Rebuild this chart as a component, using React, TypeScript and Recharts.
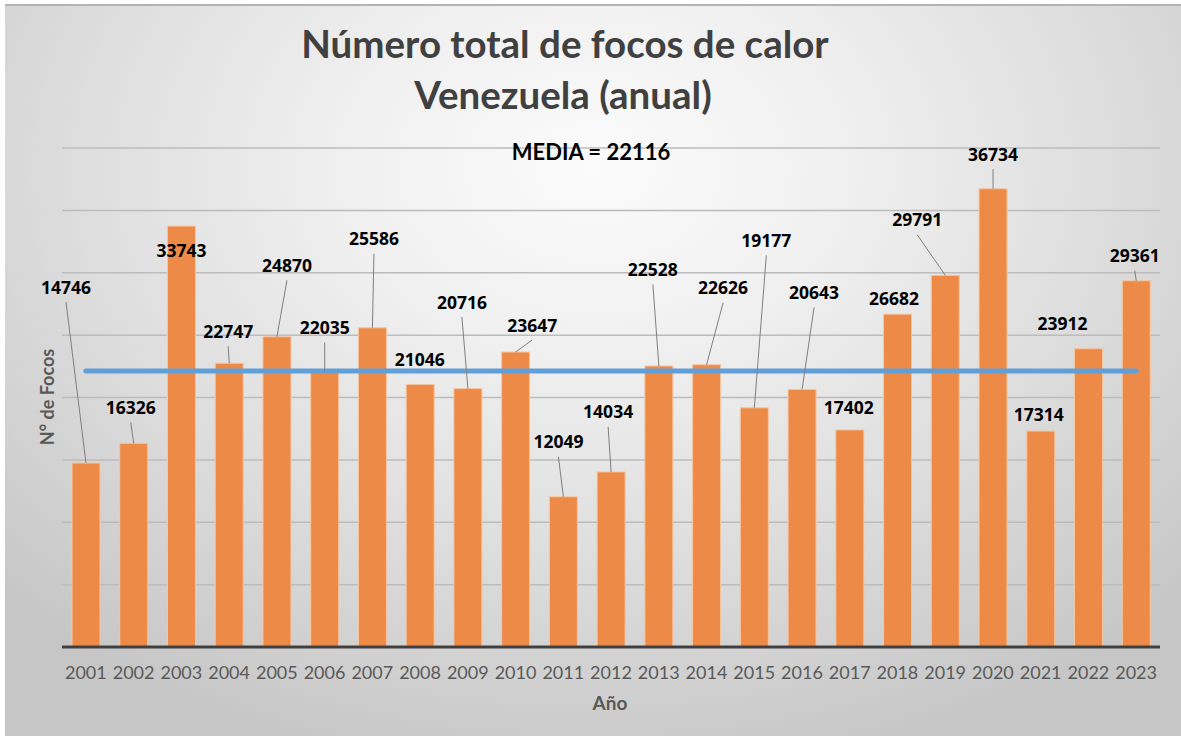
import React from 'react';
import { ComposedChart, Bar, Line, XAxis, YAxis, CartesianGrid, LabelList } from 'recharts';

// ---- data ----
const years = ['2001', '2002', '2003', '2004', '2005', '2006', '2007', '2008', '2009', '2010', '2011', '2012', '2013', '2014', '2015', '2016', '2017', '2018', '2019', '2020', '2021', '2022', '2023'];
const focos = [14746, 16326, 33743, 22747, 24870, 22035, 25586, 21046, 20716, 23647, 12049, 14034, 22528, 22626, 19177, 20643, 17402, 26682, 29791, 36734, 17314, 23912, 29361];
const media = 22116;
const yTicks = [0, 5000, 10000, 15000, 20000, 25000, 30000, 35000, 40000];

const titleLines = ['Número total de focos de calor', 'Venezuela (anual)'];
const mediaLabel = 'MEDIA = 22116';
const yAxisTitle = 'N° de Focos';
const xAxisTitle = 'Año';

// ---- layout of the (manually moved) data labels: [dx, dy, leader line] relative to bar top centre ----
const labelLayout: [number, number, boolean][] = [
  [-20, -176, true],
  [-3, -36, true],
  [0, 24, false],
  [-1, -32, true],
  [10, -71.5, true],
  [0, -44.5, true],
  [1.5, -89, true],
  [-0.5, -24.5, false],
  [-6, -86.5, true],
  [16.5, -27, true],
  [-5, -55, true],
  [-3, -60, true],
  [-6, -96.5, true],
  [16.5, -77, true],
  [12, -167.5, true],
  [12, -97, true],
  [-1, -22, false],
  [-3.5, -16, false],
  [-28, -55.5, true],
  [0, -34.5, true],
  [-2, -17, false],
  [-26, -25, false],
  [-1.5, -25, true],
];

const data = years.map((y, i) => ({ year: y, focos: focos[i], media }));

const FONT = 'Lato, "Open Sans", sans-serif';
const LABEL_FONT = '"Open Sans", Lato, sans-serif';

const BarLabel = (props: any) => {
  const { x, y, width, value, index } = props;
  const cx = Number(x) + Number(width) / 2;
  const top = Number(y);
  const [dx, dy, leader] = labelLayout[index] || [0, -20, false];
  const tx = cx + dx;
  const ty = top + dy;
  return (
    <g>
      {leader && (
        <line x1={tx} y1={ty + 15} x2={cx} y2={top} stroke="#7f7f7f" strokeWidth={1} />
      )}
      <text
        x={tx}
        y={ty + 6.5}
        textAnchor="middle"
        fontFamily={LABEL_FONT}
        fontWeight={700}
        fontSize={17.5}
        fill="#000000"
      >
        {value}
      </text>
    </g>
  );
};

export default function App() {
  return (
    <div style={{ position: 'absolute', left: 0, top: 0, width: 1181, height: 740, background: '#ffffff', overflow: 'hidden' }}>
      <div
        style={{
          position: 'absolute',
          left: 5,
          top: 4,
          width: 1176,
          height: 732,
          boxSizing: 'border-box',
          borderTop: '2px solid #b3b3b3',
          background:
            'radial-gradient(ellipse 70% 85% at 50% 22%, #fbfbfb 0%, #f0f0f0 30%, #dedede 62%, #c6c6c6 100%)',
        }}
      />
      <div style={{ position: 'absolute', left: 0, top: 0 }}>
        <ComposedChart
          width={1181}
          height={740}
          data={data}
          margin={{ top: 148, right: 21, bottom: 0, left: 62 }}
        >
          <CartesianGrid horizontal vertical={false} stroke="#bcbcbc" strokeWidth={1.5} />
          <YAxis hide width={0} domain={[0, 40000]} ticks={yTicks} type="number" />
          <XAxis
            dataKey="year"
            height={93}
            interval={0}
            tickLine={false}
            tickMargin={13}
            axisLine={{ stroke: '#404040', strokeWidth: 3 }}
            tick={{ fill: '#595959', fontSize: 18, fontFamily: FONT }}
          />
          <Bar dataKey="focos" barSize={28} fill="#ee8a48" stroke="#f6c7a2" strokeWidth={1} isAnimationActive={false}>
            <LabelList dataKey="focos" content={BarLabel} />
          </Bar>
          <Line
            dataKey="media"
            type="linear"
            stroke="#619fd8"
            strokeWidth={5}
            strokeLinecap="round"
            dot={false}
            activeDot={false}
            isAnimationActive={false}
          />
        </ComposedChart>
      </div>
      <svg width={1181} height={740} style={{ position: 'absolute', left: 0, top: 0, pointerEvents: 'none' }}>
        <text x={565} y={58} textAnchor="middle" fontFamily={FONT} fontWeight={700} fontSize={38.5} fill="#404040">
          {titleLines[0]}
        </text>
        <text x={563} y={109} textAnchor="middle" fontFamily={FONT} fontWeight={700} fontSize={38.5} fill="#404040">
          {titleLines[1]}
        </text>
        <text x={591} y={160} textAnchor="middle" fontFamily={FONT} fontWeight={700} fontSize={22} fill="#000000">
          {mediaLabel}
        </text>
        <text
          x={0}
          y={0}
          transform="translate(54,397) rotate(-90)"
          textAnchor="middle"
          fontFamily={FONT}
          fontWeight={700}
          fontSize={18}
          fill="#595959"
        >
          {yAxisTitle}
        </text>
        <text x={610} y={710} textAnchor="middle" fontFamily={FONT} fontWeight={700} fontSize={19} fill="#595959">
          {xAxisTitle}
        </text>
      </svg>
    </div>
  );
}
